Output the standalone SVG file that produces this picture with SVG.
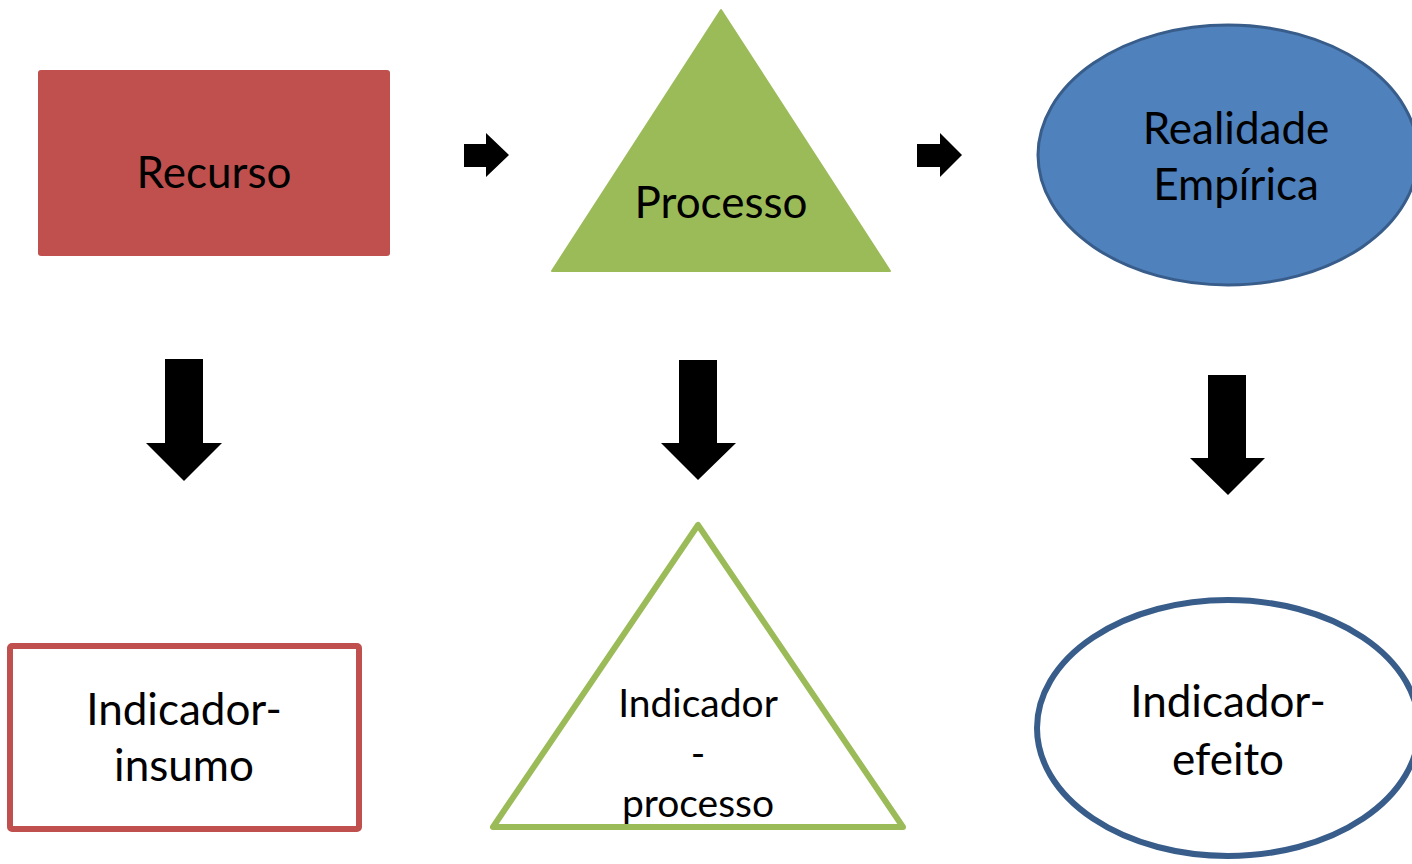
<svg xmlns="http://www.w3.org/2000/svg" width="1412" height="864" viewBox="0 0 1412 864">
<style>
.t{font-family:Lato,"Open Sans","Liberation Sans",sans-serif;font-size:44px;fill:#000;text-anchor:middle}
.s{font-size:39px}
.arr{fill:#000}
</style>
<rect width="1412" height="864" fill="#fff"/>
<g id="recurso">
<rect x="38" y="70" width="352" height="186" rx="3" fill="#C0504D"/>
<text class="t" x="214" y="188">Recurso</text>
</g>
<g id="processo">
<polygon points="721,10 552,271 890,271" fill="#9BBB59" stroke="#9BBB59" stroke-width="2" stroke-linejoin="round"/>
<text class="t" x="721" y="218">Processo</text>
</g>
<g id="realidade">
<ellipse cx="1228" cy="155" rx="190" ry="130" fill="#4F81BD" stroke="#385D8A" stroke-width="3"/>
<text class="t" x="1236" y="144">Realidade</text>
<text class="t" x="1236" y="200">Empírica</text>
</g>
<g id="insumo">
<rect x="10" y="646" width="349" height="183" fill="#fff" stroke="#C0504D" stroke-width="6" rx="2"/>
<text class="t" x="184" y="725">Indicador-</text>
<text class="t" x="184" y="781">insumo</text>
</g>
<g id="indproc">
<polygon points="698,525 493,827 903,827" fill="#fff" stroke="#9BBB59" stroke-width="6" stroke-linejoin="round"/>
<text class="t s" x="698" y="717">Indicador</text>
<text class="t s" x="698" y="767">-</text>
<text class="t s" x="698" y="817">processo</text>
</g>
<g id="efeito">
<ellipse cx="1228" cy="728" rx="191" ry="128" fill="#fff" stroke="#385D8A" stroke-width="6"/>
<text class="t" x="1228" y="717">Indicador-</text>
<text class="t" x="1228" y="775">efeito</text>
</g>
<g id="connectors">
<polygon class="arr" points="464,144 486,144 486,133 509,155 486,177 486,167 464,167"/>
<polygon class="arr" points="917,144 940,144 940,133 962,155 940,177 940,167 917,167"/>
<polygon class="arr" points="165,359 203,359 203,443 222,443 184,481 146,443 165,443"/>
<polygon class="arr" points="679,360 717,360 717,443 736,443 698,480 661,443 679,443"/>
<polygon class="arr" points="1208,375 1246,375 1246,458 1265,458 1228,495 1190,458 1208,458"/>
</g>
</svg>
